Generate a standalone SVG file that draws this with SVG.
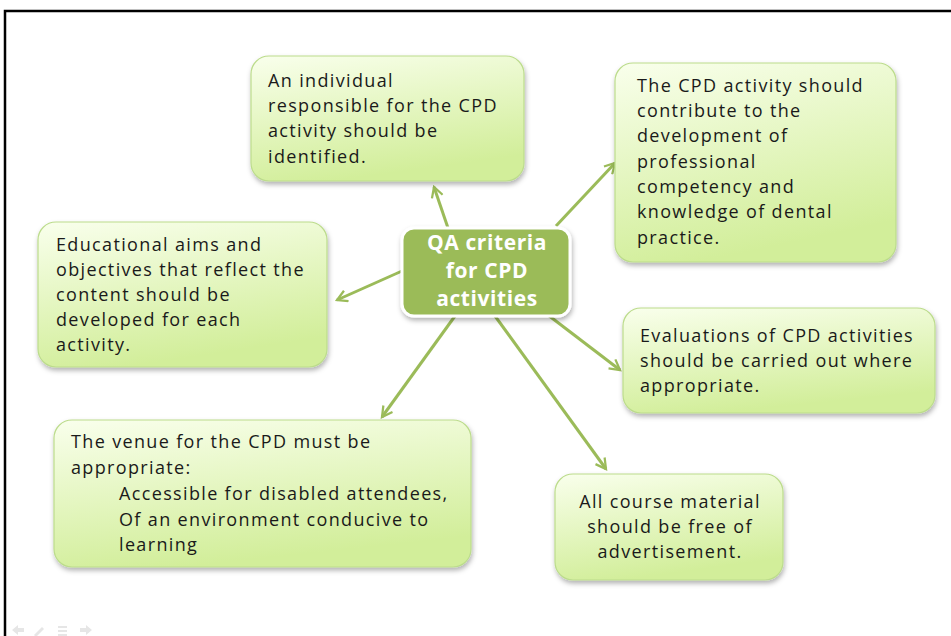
<svg xmlns="http://www.w3.org/2000/svg" width="951" height="636" viewBox="0 0 951 636">
<style>
.box{fill:url(#g);stroke:#bcdc8c;stroke-width:1.2;filter:url(#sh)}
.t{font-family:"Open Sans","DejaVu Sans",sans-serif;font-size:18px;letter-spacing:1.35px;fill:#1a1a1a}
.c{font-family:"Open Sans","DejaVu Sans",sans-serif;font-size:21px;font-weight:bold;letter-spacing:0.6px;fill:#ffffff;text-anchor:middle}
.con line{stroke:#9bbb59;stroke-width:3;marker-end:url(#ah)}
</style>
<defs>
<linearGradient id="g" x1="0" y1="0" x2="0.3" y2="1">
<stop offset="0" stop-color="#f9ffec"/>
<stop offset="1" stop-color="#d2ee9a"/>
</linearGradient>
<filter id="sh" x="-10%" y="-10%" width="125%" height="130%">
<feDropShadow dx="1" dy="3" stdDeviation="2.5" flood-color="#000" flood-opacity="0.3"/>
</filter>
<marker id="ah" viewBox="0 0 12 12" refX="10" refY="6" markerWidth="4.5" markerHeight="4.5" orient="auto" markerUnits="strokeWidth">
<path d="M1,1 L10,6 L1,11" fill="none" stroke="#9bbb59" stroke-width="2"/>
</marker>
</defs>
<rect width="951" height="636" fill="#ffffff"/>
<path d="M5,640 V11 H960" fill="none" stroke="#000" stroke-width="2.5"/>
<g id="nav" fill="#e6e6e6">
<path d="M12,630 l6,-5 v3 h6 v4 h-6 v3 z"/>
<path d="M34,635 l8,-8 l2,2 l-8,8 z"/>
<rect x="58" y="626" width="9" height="2"/><rect x="58" y="630" width="9" height="2"/><rect x="58" y="634" width="9" height="2"/>
<path d="M92,630 l-6,-5 v3 h-6 v4 h6 v3 z"/>
</g>
<g class="con" id="connectors">
<line x1="448" y1="228" x2="434" y2="187"/>
<line x1="556" y1="226" x2="615" y2="163"/>
<line x1="402" y1="271" x2="337" y2="300"/>
<line x1="455" y1="316" x2="382" y2="417"/>
<line x1="548" y1="315" x2="620" y2="370"/>
<line x1="495" y1="316" x2="606" y2="469"/>
</g>
<g id="center">
<rect x="402" y="228" width="168" height="88" rx="12" fill="#9bbb59" stroke="#ffffff" stroke-width="3" filter="url(#sh)"/>
<text class="c" x="487" y="250">QA criteria</text>
<text class="c" x="487" y="278">for CPD</text>
<text class="c" x="487" y="306">activities</text>
</g>
<g id="top">
<rect class="box" x="251" y="56" width="273" height="125" rx="18"/>
<text class="t" x="268" y="87">An individual</text>
<text class="t" x="268" y="112">responsible for the CPD</text>
<text class="t" x="268" y="137">activity should be</text>
<text class="t" x="268" y="163">identified.</text>
</g>
<g id="topright">
<rect class="box" x="615" y="63" width="281" height="199" rx="18"/>
<text class="t" x="637" y="92">The CPD activity should</text>
<text class="t" x="637" y="117">contribute to the</text>
<text class="t" x="637" y="142">development of</text>
<text class="t" x="637" y="168">professional</text>
<text class="t" x="637" y="193">competency and</text>
<text class="t" x="637" y="218">knowledge of dental</text>
<text class="t" x="637" y="244">practice.</text>
</g>
<g id="left">
<rect class="box" x="38" y="222" width="289" height="145" rx="18"/>
<text class="t" x="56" y="251">Educational aims and</text>
<text class="t" x="56" y="276">objectives that reflect the</text>
<text class="t" x="56" y="301">content should be</text>
<text class="t" x="56" y="326">developed for each</text>
<text class="t" x="56" y="351">activity.</text>
</g>
<g id="rightmid">
<rect class="box" x="623" y="308" width="312" height="105" rx="18"/>
<text class="t" x="640" y="342">Evaluations of CPD activities</text>
<text class="t" x="640" y="367">should be carried out where</text>
<text class="t" x="640" y="392">appropriate.</text>
</g>
<g id="bottomleft">
<rect class="box" x="54" y="420" width="417" height="147" rx="18"/>
<text class="t" x="71" y="448">The venue for the CPD must be</text>
<text class="t" x="71" y="474">appropriate:</text>
<text class="t" x="119" y="500">Accessible for disabled attendees,</text>
<text class="t" x="119" y="526">Of an environment conducive to</text>
<text class="t" x="119" y="551">learning</text>
</g>
<g id="bottomright">
<rect class="box" x="555" y="474" width="228" height="106" rx="18"/>
<text class="t" x="670" y="508" text-anchor="middle">All course material</text>
<text class="t" x="670" y="533" text-anchor="middle">should be free of</text>
<text class="t" x="670" y="558" text-anchor="middle">advertisement.</text>
</g>
</svg>
